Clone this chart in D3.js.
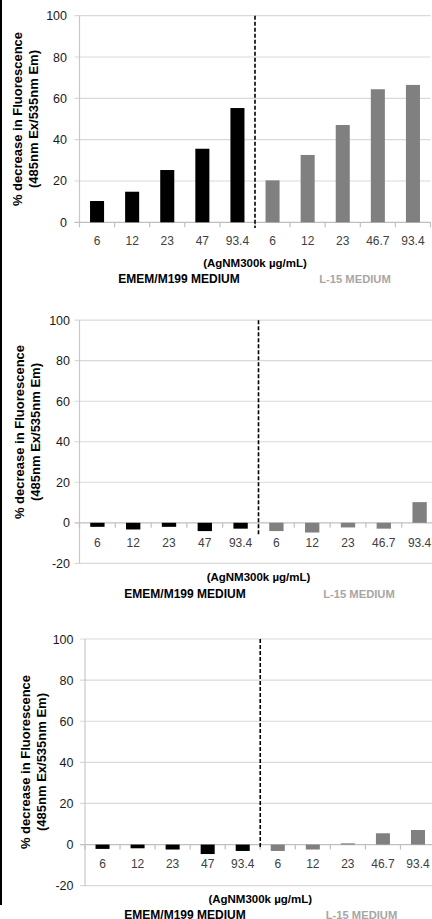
<!DOCTYPE html>
<html>
<head>
<meta charset="utf-8">
<script src="https://cdn.jsdelivr.net/npm/d3@7"></script>
<style>
  body { margin: 0; background: #fff; }
  text { font-family: "Liberation Sans", Arial, sans-serif; }
</style>
</head>
<body>
<div id="chart"></div>
<script>
// categories (AgNM300k dose, µg/mL) and media
var emDoses = ["6", "12", "23", "47", "93.4"];
var l15Doses = ["6", "12", "23", "46.7", "93.4"];
var mediaNames = ["EMEM/M199 MEDIUM", "L-15 MEDIUM"];

// % decrease in fluorescence
var panel1Emem = [10.3, 14.8, 25.3, 35.6, 55.3];
var panel1L15  = [20.3, 32.6, 47.1, 64.4, 66.5];
var panel2Emem = [-2.0, -3.3, -2.0, -4.1, -2.9];
var panel2L15  = [-4.1, -4.8, -2.3, -2.9, 10.2];
var panel3Emem = [-2.1, -1.8, -2.4, -4.6, -3.1];
var panel3L15  = [-3.1, -2.4, 0.6, 5.5, 7.1];

// y tick labels
var yTicksTop = [0, 20, 40, 60, 80, 100];
var yTicksNeg = [-20, 0, 20, 40, 60, 80, 100];

var xTitle = "(AgNM300k µg/mL)";
var yTitle1 = "% decrease in Fluorescence";
var yTitle2 = "(485nm Ex/535nm Em)";

var svg = d3.select("#chart")
  .append("svg")
    .attr("width", 432)
    .attr("height", 919);

// black edge on the left of the figure
svg.append("line")
  .attr("x1", 1).attr("x2", 1)
  .attr("y1", 0).attr("y2", 905)
  .attr("stroke", "#000")
  .attr("stroke-width", 2);

// layout of the three panels
var panels = [
  {emem: panel1Emem, l15: panel1L15, ticks: yTicksTop, left: 79.5, band: 35.1,
   top: 15.7, bottom: 222.3, labelY: 245, titleY: 267, mediaY: 283, mediaX: [179, 355],
   ylabX: 17, ylabY: 119, tickRight: 67, dashEnd: 228},
  {emem: panel2Emem, l15: panel2L15, ticks: yTicksNeg, left: 79.5, band: 35.8,
   top: 320.2, bottom: 563.3, labelY: 546.5, titleY: 581, mediaY: 597.5, mediaX: [185, 359],
   ylabX: 19, ylabY: 432, tickRight: 70, dashEnd: 535},
  {emem: panel3Emem, l15: panel3L15, ticks: yTicksNeg, left: 85, band: 35.05,
   top: 639, bottom: 885.7, labelY: 867.5, titleY: 903, mediaY: 919, mediaX: [185, 361.5],
   ylabX: 25, ylabY: 762, tickRight: 73.5, dashEnd: 847}
];

panels.forEach(function(p) {
  var g = svg.append("g");
  var values = p.emem.concat(p.l15);
  var labels = emDoses.concat(l15Doses);
  var idx = d3.range(values.length);

  var x = d3.scaleBand()
    .domain(idx)
    .range([p.left, p.left + p.band * idx.length])
    .paddingInner(0).paddingOuter(0);

  var y = d3.scaleLinear()
    .domain([d3.min(p.ticks), d3.max(p.ticks)])
    .range([p.bottom, p.top]);

  var right = x.range()[1];

  // horizontal gridlines
  g.selectAll(".grid")
    .data(p.ticks)
    .enter()
    .append("line")
      .attr("x1", p.left - 5)
      .attr("x2", right)
      .attr("y1", function(d) { return y(d); })
      .attr("y2", function(d) { return y(d); })
      .attr("stroke", function(d) { return d == 0 ? "#bfbfbf" : "#d9d9d9"; })
      .attr("stroke-width", 1.2);

  // vertical axis line
  g.append("line")
    .attr("x1", p.left).attr("x2", p.left)
    .attr("y1", y.range()[1]).attr("y2", y.range()[0])
    .attr("stroke", "#c8c8c8")
    .attr("stroke-width", 1.2);

  // y tick labels
  g.selectAll(".ytick")
    .data(p.ticks)
    .enter()
    .append("text")
      .attr("x", p.tickRight)
      .attr("y", function(d) { return y(d); })
      .attr("dy", "0.36em")
      .attr("text-anchor", "end")
      .style("font-size", "12.5px")
      .attr("fill", "#1a1a1a")
      .text(function(d) { return d; });

  // category tick marks on the zero line
  g.selectAll(".xtick")
    .data(d3.range(idx.length + 1))
    .enter()
    .append("line")
      .attr("x1", function(d) { return p.left + d * x.bandwidth(); })
      .attr("x2", function(d) { return p.left + d * x.bandwidth(); })
      .attr("y1", y(0))
      .attr("y2", y(0) + 5)
      .attr("stroke", "#bfbfbf")
      .attr("stroke-width", 1.2);

  // bars
  g.selectAll(".bar")
    .data(idx)
    .enter()
    .append("rect")
      .attr("x", function(i) { return x(i) + x.bandwidth() * 0.3; })
      .attr("width", x.bandwidth() * 0.4)
      .attr("y", function(i) { return y(Math.max(0, values[i])); })
      .attr("height", function(i) { return Math.abs(y(values[i]) - y(0)); })
      .attr("fill", function(i) { return i < 5 ? "#000" : "#808080"; });

  // x tick labels
  g.selectAll(".xlab")
    .data(idx)
    .enter()
    .append("text")
      .attr("x", function(i) { return x(i) + x.bandwidth() / 2; })
      .attr("y", p.labelY)
      .attr("text-anchor", "middle")
      .style("font-size", "12px")
      .attr("fill", "#404040")
      .text(function(i) { return labels[i]; });

  // dashed separator between media
  g.append("line")
    .attr("x1", x(5)).attr("x2", x(5))
    .attr("y1", p.top).attr("y2", p.dashEnd)
    .attr("stroke", "#000")
    .attr("stroke-width", 1.6)
    .attr("stroke-dasharray", "4,2");

  // x title and media names
  g.append("text")
    .attr("x", x(5))
    .attr("y", p.titleY)
    .attr("text-anchor", "middle")
    .style("font-size", "11.5px")
    .style("font-weight", "bold")
    .attr("fill", "#000")
    .text(xTitle);

  g.selectAll(".medium")
    .data(mediaNames)
    .enter()
    .append("text")
      .attr("x", function(d, i) { return p.mediaX[i]; })
      .attr("y", p.mediaY)
      .attr("text-anchor", "middle")
      .style("font-size", function(d, i) { return i == 0 ? "12px" : "11.2px"; })
      .style("font-weight", "bold")
      .attr("fill", function(d, i) { return i == 0 ? "#000" : "#a6a6a6"; })
      .text(function(d) { return d; });

  // y title, two lines
  var yt = g.append("text")
    .attr("transform", "translate(" + p.ylabX + "," + p.ylabY + ") rotate(-90)")
    .attr("text-anchor", "middle")
    .style("font-size", "13px")
    .style("font-weight", "bold")
    .attr("fill", "#000");
  yt.append("tspan").attr("x", 0).attr("dy", "0.36em").text(yTitle1);
  yt.append("tspan").attr("x", 0).attr("dy", "16").text(yTitle2);
});
</script>
</body>
</html>
